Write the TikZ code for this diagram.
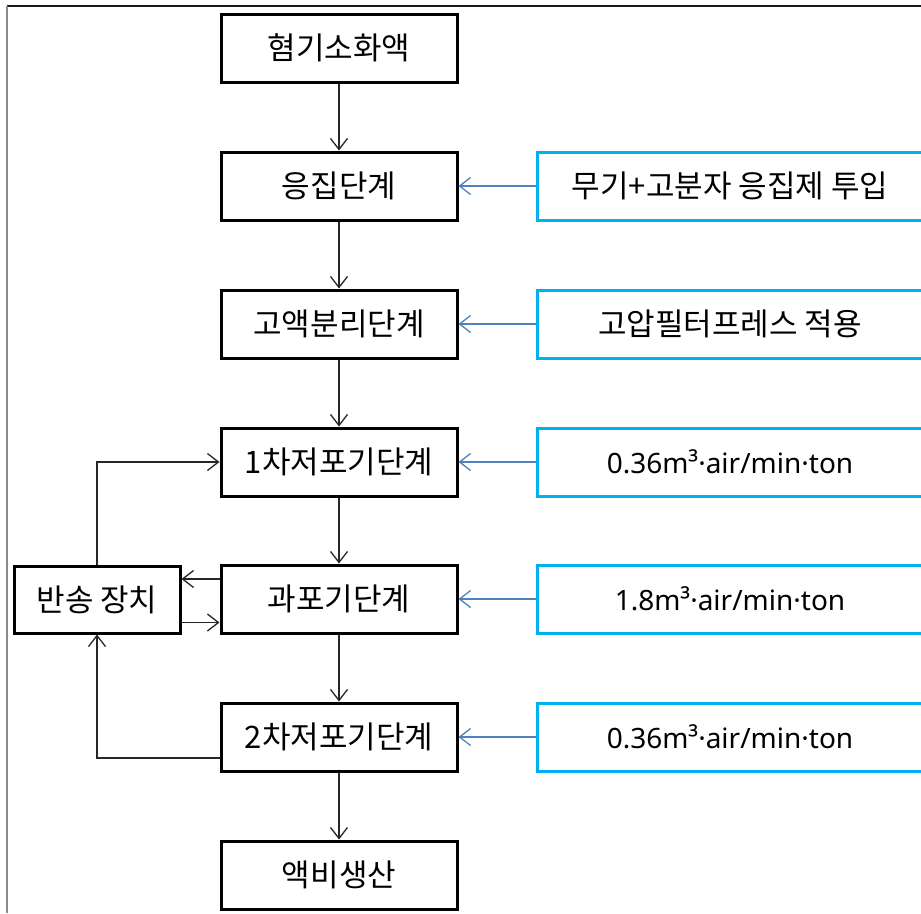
\documentclass[tikz,border=0pt]{standalone}
\usepackage{fontspec}
\setmainfont{Noto Sans CJK KR}
\newfontfamily\latinfont{Noto Sans}
\usetikzlibrary{arrows.meta}
\definecolor{boxblue}{HTML}{00B0F0}
\definecolor{linkblue}{HTML}{4F81BD}
\begin{document}
\begin{tikzpicture}[x=1pt,y=-1pt,
  stage/.style={draw=black, line width=3pt, minimum width=236pt, minimum height=68pt,
    inner sep=0pt, font=\fontsize{31}{34}\selectfont},
  note/.style={draw=boxblue, line width=3pt, minimum width=386pt, minimum height=68pt,
    inner sep=0pt, font=\fontsize{31}{34}\selectfont},
  rate/.style={note, font=\latinfont\fontsize{28}{32}\selectfont},
  flow/.style={draw=black!85, line width=1.3pt,
    -{Straight Barb[length=11pt,width=17pt,line width=1.3pt]}},
  feed/.style={draw=linkblue, line width=1.3pt,
    -{Straight Barb[length=11pt,width=17pt,line width=1.3pt]}},
  frame/.style={line width=2pt}]

\useasboundingbox (0,0) rectangle (921,913);
\clip (0,0) rectangle (921,913);
\fill[white] (0,0) rectangle (921,913);

% page frame
\draw[frame, black!90] (7,6) -- (921,6);
\draw[frame, gray!90] (7,6) -- (7,913);

% main process chain
\node[stage] (s1) at (339,48)  {혐기소화액};
\node[stage] (s2) at (339,186) {응집단계};
\node[stage] (s3) at (339,324) {고액분리단계};
\node[stage] (s4) at (339,462) {1차저포기단계};
\node[stage] (s5) at (339,599) {과포기단계};
\node[stage] (s6) at (339,737) {2차저포기단계};
\node[stage] (s7) at (339,875) {액비생산};

% return unit
\node[stage, minimum width=166pt, minimum height=67pt] (ret) at (97,599.5) {반송 장치};

% process conditions
\node[note] (n2) at (730,186) {무기+고분자 응집제 투입};
\node[note] (n3) at (730,324) {고압필터프레스 적용};
\node[rate] (n4) at (730,462) {0.36m³·air/min·ton};
\node[rate] (n5) at (730,599) {1.8m³·air/min·ton};
\node[rate] (n6) at (730,737) {0.36m³·air/min·ton};

% main flow
\draw[flow] (s1) -- (s2);
\draw[flow] (s2) -- (s3);
\draw[flow] (s3) -- (s4);
\draw[flow] (s4) -- (s5);
\draw[flow] (s5) -- (s6);
\draw[flow] (s6) -- (s7);

% condition inputs
\draw[feed] (n2) -- (s2);
\draw[feed] (n3) -- (s3);
\draw[feed] (n4) -- (s4);
\draw[feed] (n5) -- (s5);
\draw[feed] (n6) -- (s6);

% return loops
\draw[flow] ([yshift=20pt]s5.west) -- ([yshift=20pt]s5.west -| ret.east);
\draw[flow] ([yshift=-23pt]ret.east) -- ([yshift=-23pt]ret.east -| s5.west);
\draw[flow] (ret.north) |- (s4.west);
\draw[flow] ([yshift=-21pt]s6.west) -| (ret.south);
\end{tikzpicture}
\end{document}
